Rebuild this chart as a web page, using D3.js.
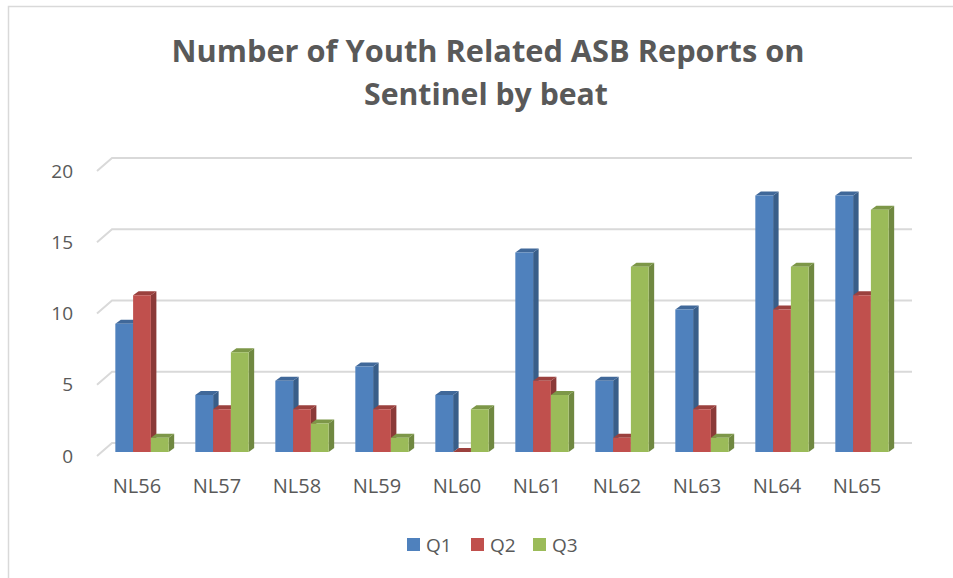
<!DOCTYPE html>
<html>
<head>
<meta charset="utf-8">
<script src="https://cdn.jsdelivr.net/npm/d3@7"></script>
<style>
  body { margin: 0; background: #fff; }
  #chart { width: 953px; height: 578px; }
  text { font-family: "Open Sans", sans-serif; fill: #595959; }
</style>
</head>
<body>
<div id="chart"></div>
<script>
// Data
const categories = ["NL56", "NL57", "NL58", "NL59", "NL60", "NL61", "NL62", "NL63", "NL64", "NL65"];
const seriesNames = ["Q1", "Q2", "Q3"];
const q1 = [9, 4, 5, 6, 4, 14, 5, 10, 18, 18];
const q2 = [11, 3, 3, 3, 0, 5, 1, 3, 10, 11];
const q3 = [1, 7, 2, 1, 3, 4, 13, 1, 13, 17];
const yTicks = [0, 5, 10, 15, 20];
const colors = ["#4F81BD", "#C0504D", "#9BBB59"];

const seriesValues = [q1, q2, q3];

const width = 953, height = 578;

const svg = d3.select("#chart")
    .append("svg")
    .attr("width", width)
    .attr("height", height);

// chart border
svg.append("rect")
    .attr("x", 8.5)
    .attr("y", 6.5)
    .attr("width", 960)
    .attr("height", 600)
    .attr("fill", "white")
    .attr("stroke", "#d9d9d9")
    .attr("stroke-width", 1.5);

// Title
const title = svg.append("text")
    .attr("text-anchor", "middle")
    .style("font-size", "30px")
    .style("font-weight", "bold");
title.append("tspan")
    .attr("x", 488).attr("y", 62)
    .attr("textLength", 633).attr("lengthAdjust", "spacingAndGlyphs")
    .text("Number of Youth Related ASB Reports on");
title.append("tspan")
    .attr("x", 486).attr("y", 105)
    .attr("textLength", 244).attr("lengthAdjust", "spacingAndGlyphs")
    .text("Sentinel by beat");

// Scales (front floor plane)
const x = d3.scaleBand()
    .domain(categories)
    .range([97, 897]);

const y = d3.scaleLinear()
    .domain([0, 20])
    .range([456, 171]);

// depth offsets
const back = { dx: 15, dy: -13 };   // back wall relative to front
const barPlane = { dx: 5, dy: -4 }; // bar front faces relative to front
const barDepth = { dx: 5.5, dy: -4 };

const groupW = x.bandwidth() / 1.5;
const xs = d3.scaleBand()
    .domain(seriesNames)
    .range([0, groupW]);

// Gridlines: back wall + diagonal to front
const grid = svg.append("g")
    .attr("stroke", "#d9d9d9")
    .attr("stroke-width", 2)
    .attr("fill", "none");

grid.selectAll("path")
    .data(yTicks)
    .enter().append("path")
    .attr("d", d => {
        const fy = y(d);
        return `M${x.range()[0]},${fy} L${x.range()[0] + back.dx},${fy + back.dy} L${x.range()[1] + back.dx},${fy + back.dy}`;
    });

// Y axis labels
svg.append("g")
    .attr("transform", "translate(83,0)")
    .call(d3.axisLeft(y).tickValues(yTicks).tickSize(0).tickPadding(10))
    .call(g => g.select(".domain").remove())
    .selectAll("text")
    .style("font-size", "19px")
    .style("font-family", "'Open Sans', sans-serif")
    .attr("fill", "#595959");

// X axis labels
svg.append("g")
    .attr("transform", "translate(0,470)")
    .call(d3.axisBottom(x).tickSize(0).tickPadding(9))
    .call(g => g.select(".domain").remove())
    .selectAll("text")
    .style("font-size", "20px")
    .style("font-family", "'Open Sans', sans-serif")
    .attr("fill", "#595959");

// Bars (3D style)
const bars = svg.append("g");

categories.forEach((cat, ci) => {
    const gx = x(cat) + (x.bandwidth() - groupW) / 2 + barPlane.dx;
    seriesNames.forEach((s, si) => {
        const v = seriesValues[si][ci];
        const x0 = gx + xs(s);
        const w = xs.bandwidth();
        const y0 = y(0) + barPlane.dy;
        const y1 = y(v) + barPlane.dy;
        const base = d3.color(colors[si]);
        const g = bars.append("g");

        // side face
        g.append("path")
            .attr("d", `M${x0 + w},${y1} L${x0 + w + barDepth.dx},${y1 + barDepth.dy} L${x0 + w + barDepth.dx},${y0 + barDepth.dy} L${x0 + w},${y0} Z`)
            .attr("fill", base.darker(0.9));
        // top face
        g.append("path")
            .attr("d", `M${x0},${y1} L${x0 + barDepth.dx},${y1 + barDepth.dy} L${x0 + w + barDepth.dx},${y1 + barDepth.dy} L${x0 + w},${y1} Z`)
            .attr("fill", base.darker(0.6));
        // front face
        g.append("rect")
            .attr("x", x0)
            .attr("y", y1)
            .attr("width", w)
            .attr("height", y0 - y1)
            .attr("fill", base);
    });
});

// Legend
const legendX = [407, 471, 533];
const legend = svg.append("g");
seriesNames.forEach((s, i) => {
    legend.append("rect")
        .attr("x", legendX[i])
        .attr("y", 538)
        .attr("width", 13)
        .attr("height", 13)
        .attr("fill", colors[i]);
    legend.append("text")
        .attr("x", legendX[i] + 19)
        .attr("y", 552)
        .style("font-size", "19px")
        .text(s);
});
</script>
</body>
</html>
